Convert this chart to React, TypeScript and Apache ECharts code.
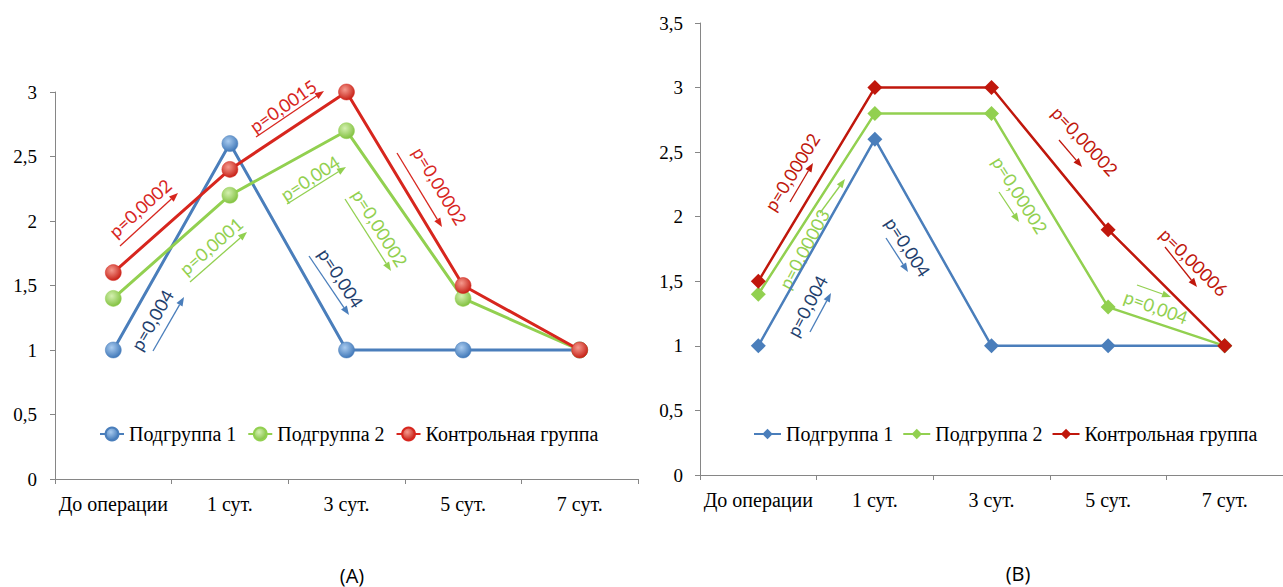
import React, { useEffect, useRef } from "react";
import * as echarts from "echarts";

const categories = ["До операции", "1 сут.", "3 сут.", "5 сут.", "7 сут."];

const seriesNames = ["Подгруппа 1", "Подгруппа 2", "Контрольная группа"];

// Chart (A)
const aSub1 = [1, 2.6, 1, 1, 1];
const aSub2 = [1.4, 2.2, 2.7, 1.4, 1];
const aCtrl = [1.6, 2.4, 3, 1.5, 1];

// Chart (B)
const bSub1 = [1, 2.6, 1, 1, 1];
const bSub2 = [1.4, 2.8, 2.8, 1.3, 1];
const bCtrl = [1.5, 3, 3, 1.9, 1];

const aYMax = 3;
const bYMax = 3.5;
const yInterval = 0.5;

const BLUE = "#4A7EBB";
const GREEN = "#92D050";
const RED_A = "#D7261E";
const RED_B = "#C0170C";
const NAVY = "#1F3F6E";

// annotation texts: [text, color, cx, cy, rotationDeg, ax1, ay1, ax2, ay2, arrowColor]
type Ann = [string, string, number, number, number, number, number, number, number, string];
const annotations: Ann[] = [
  // A
  ["p=0,0002", RED_A, 140, 208, 42, 120, 246, 178, 193, RED_A],
  ["p=0,0015", RED_A, 283, 106, 35, 256, 137, 324, 91, RED_A],
  ["p=0,0001", GREEN, 211, 246, 41, 190, 282, 247, 232, GREEN],
  ["p=0,004", GREEN, 310, 178, 33, 287, 204, 346, 167, GREEN],
  ["p=0,004", NAVY, 152, 320, 60, 153, 351, 184, 297, BLUE],
  ["p=0,004", NAVY, 341, 278, -57, 309, 256, 349, 315, BLUE],
  ["p=0,00002", GREEN, 380, 228, -58, 345, 199, 391, 271, GREEN],
  ["p=0,00002", RED_A, 440, 186, -59, 397, 153, 442, 227, RED_A],
  // B
  ["p=0,00002", RED_B, 792, 172, 58, 790, 202, 813, 163, RED_B],
  ["p=0,00003", GREEN, 804, 249, 62, 820, 213, 845, 179, GREEN],
  ["p=0,004", NAVY, 807, 306, 62, 810, 332, 831, 293, BLUE],
  ["p=0,004", NAVY, 908, 247, -57, 886, 238, 908, 272, BLUE],
  ["p=0,00002", GREEN, 1020, 195, -58, 999, 192, 1019, 222, GREEN],
  ["p=0,00002", RED_B, 1085, 141, -47, 1059, 140, 1082, 167, RED_B],
  ["p=0,00006", RED_B, 1194, 262, -45, 1165, 247, 1197, 287, RED_B],
  ["p=0,004", GREEN, 1156, 307, -20, 1137, 285, 1171, 297, GREEN],
];

function arrowEls(x1: number, y1: number, x2: number, y2: number, color: string) {
  const ang = Math.atan2(y2 - y1, x2 - x1);
  const L = 9;
  const W = 3.5;
  const c = Math.cos(ang);
  const s = Math.sin(ang);
  const bx = x2 - L * c;
  const by = y2 - L * s;
  return [
    {
      type: "line",
      silent: true,
      shape: { x1, y1, x2: bx, y2: by },
      style: { stroke: color, lineWidth: 1.3 },
    },
    {
      type: "polygon",
      silent: true,
      shape: {
        points: [
          [x2, y2],
          [bx - W * s, by + W * c],
          [bx + W * s, by - W * c],
        ],
      },
      style: { fill: color },
    },
  ];
}

function ball(color: string, light: string) {
  return {
    type: "radial",
    x: 0.4,
    y: 0.35,
    r: 0.7,
    colorStops: [
      { offset: 0, color: light },
      { offset: 1, color },
    ],
  };
}

const serif = "Liberation Serif";
const fmt = (v: number) => String(v).replace(".", ",");

export default function App() {
  const ref = useRef<HTMLDivElement>(null);
  useEffect(() => {
    if (!ref.current) return;
    const chart = echarts.init(ref.current, undefined, { renderer: "svg" });

    const xAxisBase = (gridIndex: number, margin: number) => ({
      type: "category",
      gridIndex,
      data: categories,
      boundaryGap: true,
      axisLine: { lineStyle: { color: "#868686", width: 1 } },
      axisTick: { show: true, length: 5, lineStyle: { color: "#868686" } },
      axisLabel: { color: "#000", fontFamily: serif, fontSize: 20, margin, interval: 0 },
      splitLine: { show: false },
    });
    const yAxisBase = (gridIndex: number, max: number, margin: number) => ({
      type: "value",
      gridIndex,
      min: 0,
      max,
      interval: yInterval,
      axisLine: { show: true, lineStyle: { color: "#868686", width: 1 } },
      axisTick: { show: true, length: 5, lineStyle: { color: "#868686" } },
      axisLabel: { color: "#000", fontFamily: serif, fontSize: 19, margin, formatter: fmt },
      splitLine: { show: false },
    });

    const aColors = [
      { line: BLUE, item: ball("#3A73B5", "#A9CBEF") },
      { line: GREEN, item: ball("#7DBE3A", "#D4F0B0") },
      { line: RED_A, item: ball("#C41A10", "#F59A8E") },
    ];
    const bColors = [BLUE, GREEN, RED_B];

    const aData = [aSub1, aSub2, aCtrl];
    const bData = [bSub1, bSub2, bCtrl];

    const aSeries = aData.map((d, i) => ({
      name: seriesNames[i],
      type: "line",
      xAxisIndex: 0,
      yAxisIndex: 0,
      data: d,
      symbol: "circle",
      symbolSize: 16,
      lineStyle: { color: aColors[i].line, width: 3 },
      itemStyle: { color: aColors[i].item, borderColor: aColors[i].line, borderWidth: 0.5 },
      z: 2 + i,
    }));
    const bSeries = bData.map((d, i) => ({
      name: seriesNames[i] + " ",
      type: "line",
      xAxisIndex: 1,
      yAxisIndex: 1,
      data: d,
      symbol: "diamond",
      symbolSize: 15,
      lineStyle: { color: bColors[i], width: 2.5 },
      itemStyle: { color: bColors[i] },
      z: 2 + i,
    }));

    const graphics: any[] = [];
    annotations.forEach((a) => {
      const [text, color, cx, cy, rot, ax1, ay1, ax2, ay2, acolor] = a;
      graphics.push({
        type: "text",
        silent: true,
        x: cx,
        y: cy,
        rotation: (rot * Math.PI) / 180,
        style: {
          text,
          fill: color,
          font: "18px Lato",
          align: "center",
          verticalAlign: "middle",
          textAlign: "center",
          textVerticalAlign: "middle",
        },
      });
      graphics.push(...arrowEls(ax1, ay1, ax2, ay2, acolor));
    });
    const caption = (t: string, x: number, y: number) => ({
      type: "text",
      silent: true,
      x,
      y,
      style: {
        text: t,
        fill: "#000",
        font: "20px 'Open Sans'",
        align: "center",
        verticalAlign: "middle",
        textAlign: "center",
        textVerticalAlign: "middle",
      },
    });
    graphics.push(caption("(A)", 352, 575));
    graphics.push(caption("(B)", 1018, 573));

    chart.setOption({
      animation: false,
      backgroundColor: "#fff",
      grid: [
        { left: 55, top: 92, width: 583, height: 387, containLabel: false },
        { left: 700, top: 23, width: 588, height: 452, containLabel: false },
      ],
      xAxis: [xAxisBase(0, 15), xAxisBase(1, 15)],
      yAxis: [yAxisBase(0, aYMax, 18), yAxisBase(1, bYMax, 17)],
      legend: [
        {
          data: seriesNames,
          left: 99,
          top: 424,
          padding: 0,
          itemWidth: 24,
          itemHeight: 16,
          itemGap: 11,
          textStyle: { fontFamily: serif, fontSize: 20, color: "#000" },
        },
        {
          data: seriesNames.map((n) => n + " "),
          left: 753,
          top: 424,
          padding: 0,
          itemWidth: 27,
          itemHeight: 13,
          itemGap: 9,
          formatter: (n: string) => n.trim(),
          textStyle: { fontFamily: serif, fontSize: 20, color: "#000" },
        },
      ],
      series: [...aSeries, ...bSeries],
      graphic: graphics,
    });

    return () => chart.dispose();
  }, []);

  return (
    <div
      ref={ref}
      style={{ position: "fixed", left: 0, top: 0, width: 1283, height: 587 }}
    />
  );
}
